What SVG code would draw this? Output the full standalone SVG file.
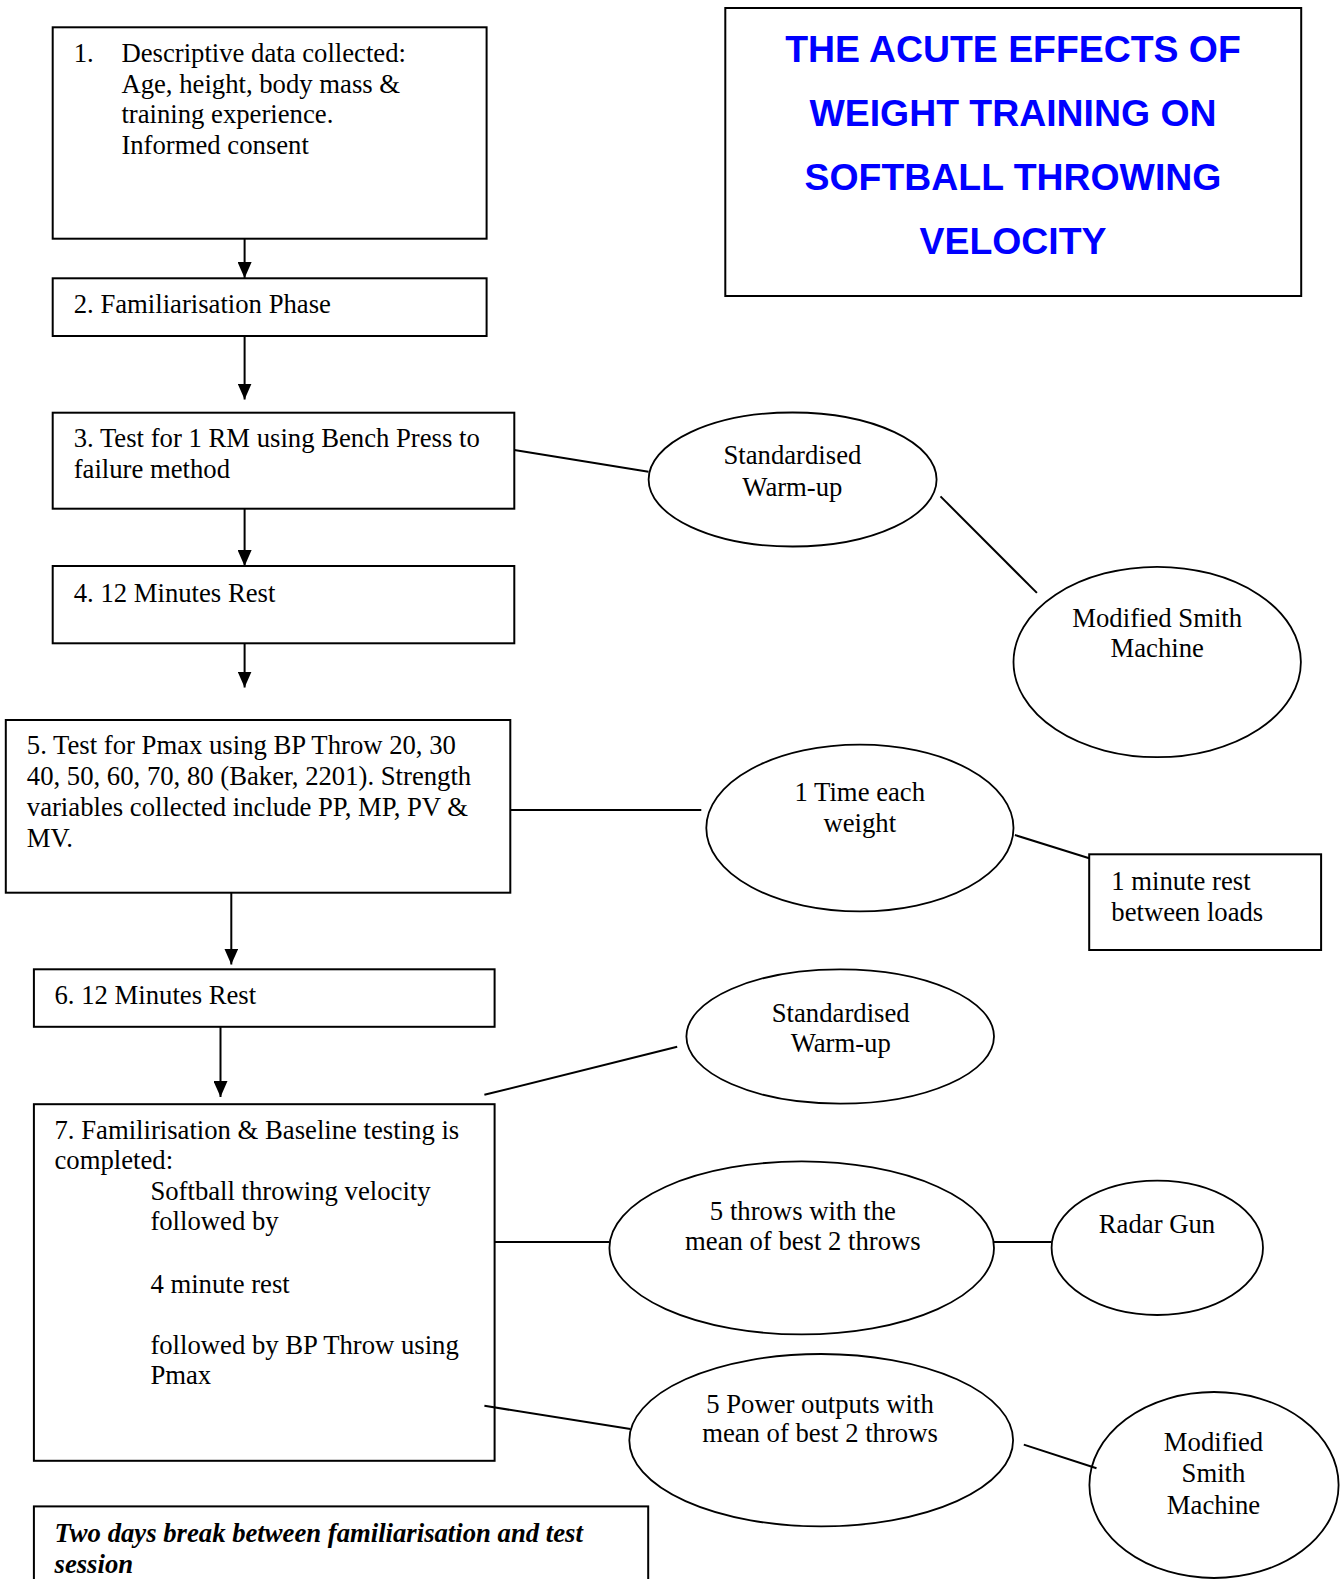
<svg xmlns="http://www.w3.org/2000/svg" width="1340" height="1579" viewBox="0 0 1340 1579">
<defs>
<style>
.box{fill:#fff;stroke:#000;stroke-width:2}
.ell{fill:#fff;stroke:#000;stroke-width:1.8}
.t{font-family:"Liberation Serif","Times New Roman",serif;font-size:26.7px;fill:#000}
.c{text-anchor:middle}
.bi{font-weight:bold;font-style:italic}
.title{font-family:"Liberation Sans",Arial,sans-serif;font-size:37.4px;font-weight:bold;fill:#0000ff;text-anchor:middle}
.ln{stroke:#000;stroke-width:2;fill:none}
</style>
<marker id="arr" markerUnits="userSpaceOnUse" markerWidth="16" markerHeight="14" refX="16" refY="7" orient="auto">
<path d="M0,0 L16,7 L0,14 Z" fill="#000"/>
</marker>
</defs>
<rect width="1340" height="1579" fill="#fff"/>

<g id="title">
<rect class="box" x="725.3" y="8" width="575.9" height="288"/>
<text class="title" x="1013" y="61.7">THE ACUTE EFFECTS OF</text>
<text class="title" x="1013" y="126">WEIGHT TRAINING ON</text>
<text class="title" x="1013" y="190">SOFTBALL THROWING</text>
<text class="title" x="1013" y="254.3">VELOCITY</text>
</g>

<g id="step1">
<rect class="box" x="52.7" y="27.3" width="433.9" height="211.4"/>
<text class="t" x="73.7" y="61.7">1.</text>
<text class="t" x="121.4" y="61.7">Descriptive data collected:</text>
<text class="t" x="121.4" y="92.5">Age, height, body mass &amp;</text>
<text class="t" x="121.4" y="123.3">training experience.</text>
<text class="t" x="121.4" y="154">Informed consent</text>
</g>

<g id="step2">
<rect class="box" x="52.7" y="278.3" width="433.9" height="57.7"/>
<text class="t" x="73.7" y="313.3">2. Familiarisation Phase</text>
</g>

<g id="step3">
<rect class="box" x="52.7" y="412.7" width="461.6" height="96"/>
<text class="t" x="73.7" y="446.7">3. Test for 1 RM using Bench Press to</text>
<text class="t" x="73.7" y="478.3">failure method</text>
</g>

<g id="step4">
<rect class="box" x="52.7" y="566" width="461.6" height="77.3"/>
<text class="t" x="73.7" y="601.7">4. 12 Minutes Rest</text>
</g>

<g id="step5">
<rect class="box" x="5.8" y="720" width="504.5" height="172.7"/>
<text class="t" x="26.8" y="754">5. Test for Pmax using BP Throw 20, 30</text>
<text class="t" x="26.8" y="785">40, 50, 60, 70, 80 (Baker, 2201). Strength</text>
<text class="t" x="26.8" y="816">variables collected include PP, MP, PV &amp;</text>
<text class="t" x="26.8" y="847">MV.</text>
</g>

<g id="step6">
<rect class="box" x="33.9" y="969.3" width="460.7" height="57.5"/>
<text class="t" x="54.5" y="1004.4">6. 12 Minutes Rest</text>
</g>

<g id="step7">
<rect class="box" x="33.9" y="1104.2" width="460.7" height="356.6"/>
<text class="t" x="54.5" y="1138.5">7. Familirisation &amp; Baseline testing is</text>
<text class="t" x="54.5" y="1169">completed:</text>
<text class="t" x="150.4" y="1200">Softball throwing velocity</text>
<text class="t" x="150.4" y="1230">followed by</text>
<text class="t" x="150.4" y="1292.5">4 minute rest</text>
<text class="t" x="150.4" y="1353.6">followed by BP Throw using</text>
<text class="t" x="150.4" y="1384">Pmax</text>
</g>

<g id="break-note">
<rect class="box" x="33.9" y="1506.4" width="614.3" height="90"/>
<text class="t bi" x="54.5" y="1542.3">Two days break between familiarisation and test</text>
<text class="t bi" x="54.5" y="1572.8">session</text>
</g>

<g id="warmup1">
<ellipse class="ell" cx="792.6" cy="479.5" rx="144" ry="67"/>
<text class="t c" x="792.4" y="464.3">Standardised</text>
<text class="t c" x="792.4" y="495.7">Warm-up</text>
</g>

<g id="smith1">
<ellipse class="ell" cx="1157.2" cy="662" rx="143.7" ry="95.2"/>
<text class="t c" x="1157.2" y="627">Modified Smith</text>
<text class="t c" x="1157.2" y="657">Machine</text>
</g>

<g id="timeeach">
<ellipse class="ell" cx="859.9" cy="828" rx="153.6" ry="83.4"/>
<text class="t c" x="859.8" y="800.7">1 Time each</text>
<text class="t c" x="859.8" y="832.1">weight</text>
</g>

<g id="restloads">
<rect class="box" x="1089.2" y="854.3" width="231.9" height="95.7"/>
<text class="t" x="1111.3" y="890.4">1 minute rest</text>
<text class="t" x="1111.3" y="921.4">between loads</text>
</g>

<g id="warmup2">
<ellipse class="ell" cx="840.2" cy="1036.5" rx="153.8" ry="67.2"/>
<text class="t c" x="840.7" y="1022.2">Standardised</text>
<text class="t c" x="840.7" y="1052.3">Warm-up</text>
</g>

<g id="throws">
<ellipse class="ell" cx="801.7" cy="1247.9" rx="192.3" ry="86.5"/>
<text class="t c" x="802.9" y="1219.5">5 throws with the</text>
<text class="t c" x="802.9" y="1250">mean of best 2 throws</text>
</g>

<g id="radar">
<ellipse class="ell" cx="1157.3" cy="1247.8" rx="105.7" ry="67.2"/>
<text class="t c" x="1157" y="1232.8">Radar Gun</text>
</g>

<g id="power">
<ellipse class="ell" cx="821.2" cy="1440.2" rx="191.9" ry="86.2"/>
<text class="t c" x="820" y="1412.5">5 Power outputs with</text>
<text class="t c" x="820" y="1442.2">mean of best 2 throws</text>
</g>

<g id="smith2">
<ellipse class="ell" cx="1214" cy="1485" rx="124.6" ry="93"/>
<text class="t c" x="1213.5" y="1451.4">Modified</text>
<text class="t c" x="1213.5" y="1482.3">Smith</text>
<text class="t c" x="1213.5" y="1513.6">Machine</text>
</g>

<g id="connectors">
<line class="ln" x1="244.6" y1="238.7" x2="244.6" y2="278" marker-end="url(#arr)"/>
<line class="ln" x1="244.6" y1="336" x2="244.6" y2="399.5" marker-end="url(#arr)"/>
<line class="ln" x1="244.6" y1="508.7" x2="244.6" y2="566" marker-end="url(#arr)"/>
<line class="ln" x1="244.6" y1="643.3" x2="244.6" y2="687.5" marker-end="url(#arr)"/>
<line class="ln" x1="231.3" y1="892.7" x2="231.3" y2="964.5" marker-end="url(#arr)"/>
<line class="ln" x1="220.5" y1="1026.8" x2="220.5" y2="1097" marker-end="url(#arr)"/>
<line class="ln" x1="514.3" y1="450" x2="648.5" y2="471.7"/>
<line class="ln" x1="940.5" y1="496.4" x2="1036.9" y2="592.9"/>
<line class="ln" x1="510.3" y1="810" x2="701.3" y2="810"/>
<line class="ln" x1="1014.9" y1="835" x2="1089.2" y2="858.2"/>
<line class="ln" x1="484.4" y1="1094.8" x2="677.2" y2="1046.8"/>
<line class="ln" x1="494.6" y1="1242" x2="609.4" y2="1242"/>
<line class="ln" x1="994" y1="1242" x2="1051.6" y2="1242"/>
<line class="ln" x1="484.4" y1="1405.8" x2="630.4" y2="1429"/>
<line class="ln" x1="1023.8" y1="1444.6" x2="1096.5" y2="1468.2"/>
</g>
</svg>
